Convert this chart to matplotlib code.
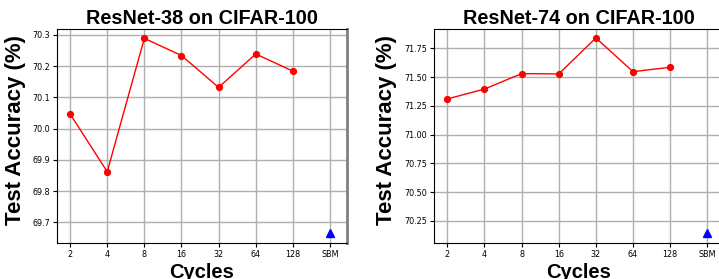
import matplotlib.pyplot as plt

cycles = ['2', '4', '8', '16', '32', '64', '128', 'SBM']

# ResNet-38
acc38 = [70.047, 69.862, 70.289, 70.234, 70.132, 70.239, 70.184]
sbm38 = 69.667
# ResNet-74
acc74 = [71.31, 71.396, 71.53, 71.527, 71.84, 71.547, 71.585]
sbm74 = 70.146

titles = ['ResNet-38 on CIFAR-100', 'ResNet-74 on CIFAR-100']


def draw(ax, acc, sbm, title, ylim, yticks, label_x):
    x = list(range(len(acc)))
    ax.plot(x, acc, color='red', lw=1, marker='o', markersize=4.2, zorder=3)
    ax.plot([len(acc)], [sbm], color='blue', marker='^', markersize=6, ls='none', zorder=3)
    ax.set_xticks(range(len(cycles)))
    ax.set_xticklabels(cycles)
    ax.set_yticks(yticks)
    ax.set_xlim(-0.36, 7.45)
    ax.set_ylim(*ylim)
    ax.grid(True, color='#b0b0b0', lw=1)
    ax.set_axisbelow(True)
    ax.tick_params(labelsize=5.8, length=3, pad=2)
    ax.spines['right'].set_color('#808080')
    ax.spines['right'].set_linewidth(2)
    ax.set_title(title, fontsize=14.3, fontweight='bold', family='Liberation Sans', pad=4)
    ax.set_xlabel('Cycles', fontsize=14.5, fontweight='bold', family='Liberation Sans', labelpad=3)
    ax.set_ylabel('Test Accuracy (%)', fontsize=16, fontweight='bold', family='Liberation Sans')
    ax.yaxis.set_label_coords(label_x, 0.53)


fig = plt.figure(figsize=(7.19, 2.79), dpi=100)
ax1 = fig.add_axes([0.0789, 0.128, 0.4033, 0.767])
ax2 = fig.add_axes([0.6036, 0.128, 0.4033, 0.767])

draw(ax1, acc38, sbm38, titles[0], (69.633, 70.318),
     [69.7, 69.8, 69.9, 70.0, 70.1, 70.2, 70.3], -0.106)
draw(ax2, acc74, sbm74, titles[1], (70.056, 71.915),
     [70.25, 70.5, 70.75, 71.0, 71.25, 71.5, 71.75], -0.128)

fig.savefig('out.png', dpi=100)
